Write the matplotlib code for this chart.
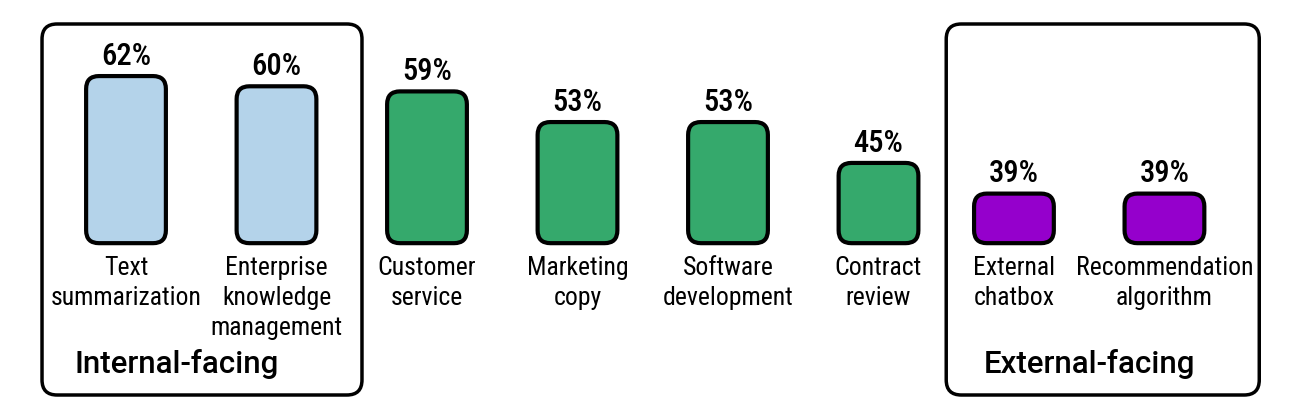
import numpy as np
import matplotlib.pyplot as plt
from matplotlib.patches import FancyBboxPatch

# data
labels = ["Text\nsummarization", "Enterprise\nknowledge\nmanagement",
          "Customer\nservice", "Marketing\ncopy", "Software\ndevelopment",
          "Contract\nreview", "External\nchatbox", "Recommendation\nalgorithm"]
values = np.array([62, 60, 59, 53, 53, 45, 39, 39])
groups = ["internal", "internal", "other", "other", "other", "other",
          "external", "external"]
group_titles = {"internal": "Internal-facing", "external": "External-facing"}

colors = {"internal": "#b4d3ea", "other": "#35a96c", "external": "#9500cc"}

# layout
positions = np.array([0, 1, 2, 3, 4, 5, 5.9, 6.9])
base = 29.3
px_x = 150.5   # pixels per x unit
px_y = 5.11    # pixels per percent

cond = ['Roboto Condensed', 'Liberation Sans Narrow', 'DejaVu Sans']
plt.rcParams['font.family'] = cond

fig = plt.figure(figsize=(13, 4.18), dpi=100)
ax = fig.add_axes([0, 0, 1, 1])
ax.set_xlim(-126 / px_x, (1300 - 126) / px_x)
ax.set_ylim(51.25 - 287 / px_y, 51.25 + 131 / px_y)
ax.axis('off')

asp = px_x / px_y
bars = ax.bar(positions, values - base, bottom=base, width=0.53)
for b, g in zip(bars, groups):
    b.remove()
    p = FancyBboxPatch((b.get_x(), b.get_y()), b.get_width(), b.get_height(),
                       boxstyle="round,pad=0,rounding_size=0.085",
                       mutation_aspect=asp, facecolor=colors[g],
                       edgecolor='black', linewidth=3)
    ax.add_patch(p)

for x, v in zip(positions, values):
    ax.annotate(f"{v}%", (x, v), xytext=(0, 8), textcoords='offset points',
                ha='center', va='baseline', fontsize=22, fontweight='medium')

for x, lab in zip(positions, labels):
    ax.annotate(lab, (x, base), xytext=(0, -9), textcoords='offset points',
                ha='center', va='top', fontsize=18.5, linespacing=1.32)

# group boxes
def group_box(x0, x1, title, tx):
    y_top = 51.25 + (131 - 24) / px_y
    y_bot = 51.25 - (395 - 131) / px_y
    box = FancyBboxPatch((x0, y_bot), x1 - x0, y_top - y_bot,
                         boxstyle="round,pad=0,rounding_size=0.1",
                         mutation_aspect=asp, facecolor='none',
                         edgecolor='black', linewidth=2.5)
    ax.add_patch(box)
    ax.text(tx, 51.25 - (373 - 131) / px_y, title, ha='center', va='baseline',
            fontsize=22.5, family=['Roboto', 'DejaVu Sans'], fontweight='medium')

group_box(-0.558, 1.568, group_titles["internal"], 0.34)
group_box(5.45, 7.53, group_titles["external"], (positions[6] + positions[7]) / 2)

fig.savefig("out.png", dpi=100)
